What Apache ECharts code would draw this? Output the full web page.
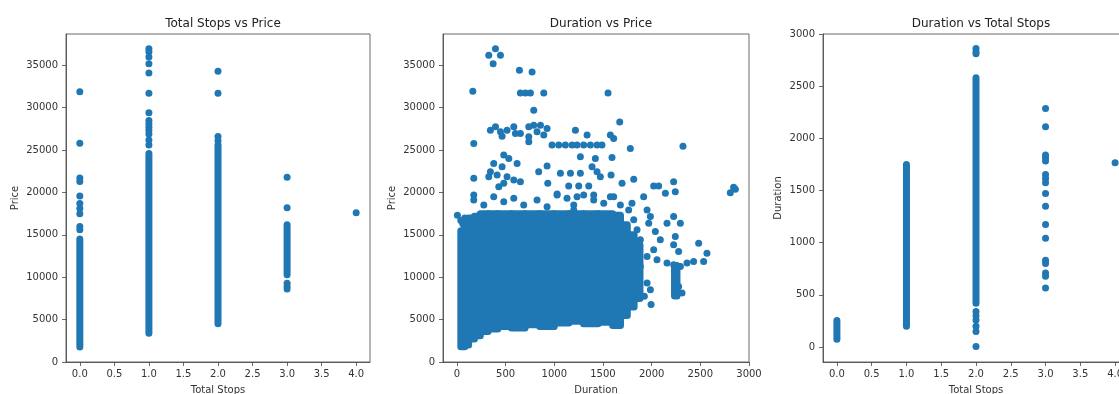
<!DOCTYPE html>
<html>
<head>
<meta charset="utf-8">
<script src="https://cdn.jsdelivr.net/npm/echarts@6/dist/echarts.min.js"></script>
<style>
  html, body { margin: 0; padding: 0; background: #fff; overflow: hidden; }
  #chart { width: 1130px; height: 394px; }
</style>
</head>
<body>
<div id="chart"></div>
<script>
// tick labels
const stopTicks = [0, 0.5, 1, 1.5, 2, 2.5, 3, 3.5, 4]
const priceTicks = [0, 5000, 10000, 15000, 20000, 25000, 30000, 35000]
const durationTicks = [0, 500, 1000, 1500, 2000, 2500, 3000]

// dense runs of overlapping points: [x0, x1, yLow, yHigh]
const stopsPriceDense = [
  [0, 0, 1760, 14500],
  [1, 1, 3400, 24600],
  [2, 2, 4500, 25600],
  [3, 3, 10300, 16200]
]
// single points: [stops, price]
const stopsPricePts = [
  [0, 31900], [0, 25800], [0, 21700], [0, 21300], [0, 19600], [0, 18700], [0, 18100],
  [0, 17500], [0, 16000], [0, 15600],
  [1, 36950], [1, 36600], [1, 36000], [1, 35200], [1, 34100], [1, 31700], [1, 29400],
  [1, 28500], [1, 28100], [1, 27700], [1, 27300], [1, 26900], [1, 26200], [1, 25600],
  [2, 34300], [2, 31700], [2, 26600], [2, 26100],
  [3, 21800], [3, 18200], [3, 9300], [3, 8900], [3, 8600],
  [4, 17600]
]

const durationPriceDense = [
  [40, 80, 1800, 15500],
  [80, 120, 2000, 16000],
  [120, 180, 2700, 17000],
  [180, 240, 3100, 17200],
  [240, 320, 3600, 17500],
  [320, 420, 3900, 17500],
  [420, 560, 4200, 17500],
  [560, 700, 4000, 17500],
  [700, 850, 4400, 17500],
  [850, 1000, 4200, 17500],
  [1000, 1150, 4600, 17500],
  [1150, 1300, 4800, 17500],
  [1300, 1450, 4500, 17500],
  [1450, 1600, 4700, 17500],
  [1600, 1680, 4300, 17300],
  [1680, 1750, 5500, 16200],
  [1750, 1820, 6500, 15000],
  [1820, 1880, 7500, 13800],
  [2235, 2260, 7800, 11400]
]
// single points: [duration, price]
const durationPricePts = [
  [396, 36960], [327, 36180], [447, 36180], [372, 35200], [642, 34410], [772, 34220],
  [163, 31940], [652, 31750], [704, 31750], [755, 31750], [892, 31750], [1552, 31750],
  [789, 29700], [1672, 28330], [2322, 25470], [1781, 25200], [173, 25790],
  [344, 27350], [396, 27750], [447, 27160], [515, 27350], [584, 27750], [652, 26960],
  [601, 26960], [738, 27750], [789, 27940], [858, 27940], [926, 27550], [823, 27160],
  [892, 26770], [738, 26570], [464, 26650], [1217, 27350], [1337, 26770], [1576, 26770],
  [1610, 26370], [738, 25980],
  [977, 25590], [1046, 25590], [1114, 25590], [1183, 25590], [1234, 25590], [1302, 25590],
  [1371, 25590], [1439, 25590], [1490, 25590],
  [1268, 24220], [1422, 24020], [1593, 24140],
  [173, 21670], [481, 24410], [533, 24020], [378, 23430], [464, 23040], [344, 22450],
  [413, 22060], [515, 21860], [618, 23430], [584, 21470], [652, 21280], [481, 21080],
  [430, 20690], [327, 21860], [840, 22450], [926, 23120], [933, 21080],
  [1063, 22260], [1166, 22260], [1268, 22260], [1148, 20770], [1251, 20770], [1354, 20770],
  [1388, 23040], [1439, 22450], [1473, 21860], [1583, 22060], [1696, 21080], [1816, 21550],
  [2021, 20770], [2072, 20770], [2226, 21280], [2243, 20100], [2141, 19900],
  [2842, 20610], [2860, 20370], [2808, 19980],
  [173, 19710], [1029, 19820], [1234, 19510], [1405, 19710], [1610, 19510], [1918, 19510],
  [173, 19120], [276, 18530], [378, 19510], [481, 18920], [584, 19310], [686, 18530],
  [823, 19120], [926, 18330], [1029, 19710], [1131, 19310], [1200, 18530], [1200, 17940],
  [1302, 19710], [1405, 19120], [1508, 18730], [1576, 19510], [1679, 18530],
  [1798, 18730], [1953, 17940], [1987, 17160], [1970, 16370], [2038, 15390], [2089, 14410],
  [2226, 17160], [2295, 16370], [2243, 14800], [2226, 13820], [2277, 13040], [2021, 13240],
  [1953, 12450], [2055, 12060], [2158, 11670], [2226, 11470], [2295, 11270], [2363, 11670],
  [1884, 11270], [2277, 8920], [2312, 8140], [1953, 9310], [1987, 8530], [1925, 7750],
  [1994, 6770], [2483, 14020], [2568, 12840], [2431, 11860], [2534, 11860], [2158, 16370],
  [1764, 17940], [1816, 16770], [1850, 15590], [1884, 14410],
  [5, 17300], [60, 16300], [80, 17000], [40, 16700]
]

const stopsDurationDense = [
  [0, 0, 75, 255],
  [1, 1, 200, 1750],
  [2, 2, 420, 2580]
]
// single points: [stops, duration]
const stopsDurationPts = [
  [2, 2860], [2, 2830], [2, 2810], [2, 340], [2, 300], [2, 260], [2, 200], [2, 150], [2, 5],
  [3, 2285], [3, 2112], [3, 1840], [3, 1814], [3, 1782], [3, 1654], [3, 1616], [3, 1574],
  [3, 1472], [3, 1350], [3, 1174], [3, 1043], [3, 832], [3, 800], [3, 710], [3, 678], [3, 566],
  [4, 1766]
]

const BLUE = '#1f77b4'
const FONT = 'DejaVu Sans'
const R = 3.5

// draw a run of overlapping markers as one rounded block
const renderDense = (params, api) => {
  const a = api.coord([api.value(0), api.value(3)])
  const b = api.coord([api.value(1), api.value(2)])
  return {
    type: 'rect',
    shape: { x: a[0] - R, y: a[1] - R, width: b[0] - a[0] + 2 * R, height: b[1] - a[1] + 2 * R, r: R },
    style: { fill: BLUE }
  }
}

const chart = echarts.init(document.getElementById('chart'))

const grids = [
  { left: 66, top: 34, width: 304, height: 328 },
  { left: 443, top: 34, width: 306, height: 328 },
  { left: 823, top: 34, width: 306, height: 328 }
]

const mkAxis = (gridIndex, min, max, ticks, name, nameGap, fmt, labelMargin) => ({
  type: 'value',
  gridIndex,
  min,
  max,
  name,
  nameLocation: 'middle',
  nameGap,
  nameTextStyle: { fontFamily: FONT, fontSize: 10, color: '#333' },
  splitLine: { show: false },
  axisLine: { show: true, onZero: false, lineStyle: { color: '#444', width: 0.8 } },
  axisTick: { show: true, inside: false, length: 4, customValues: ticks, lineStyle: { color: '#444', width: 0.8 } },
  axisLabel: {
    customValues: ticks,
    margin: labelMargin,
    fontFamily: FONT,
    fontSize: 10,
    color: '#333',
    formatter: fmt,
    hideOverlap: false
  }
})

const fmtStops = (v) => v.toFixed(1)
const fmtInt = (v) => String(Math.round(v))

const titles = ['Total Stops vs Price', 'Duration vs Price', 'Duration vs Total Stops']

const option = {
  animation: false,
  title: titles.map((t, i) => ({
    text: t,
    left: grids[i].left + grids[i].width / 2,
    top: 13,
    textAlign: 'center',
    textStyle: { fontFamily: FONT, fontSize: 12, fontWeight: 'normal', color: '#222' }
  })),
  grid: grids.map((g) => ({
    ...g,
    outerBoundsMode: 'none',
    containLabel: false,
    show: true,
    borderColor: '#444',
    borderWidth: 0.8,
    backgroundColor: '#fff'
  })),
  xAxis: [
    mkAxis(0, -0.2, 4.2, stopTicks, 'Total Stops', 23, fmtStops, 7),
    mkAxis(1, -143, 3000, durationTicks, 'Duration', 23, fmtInt, 7),
    mkAxis(2, -0.2, 4.2, stopTicks, 'Total Stops', 23, fmtStops, 7)
  ],
  yAxis: [
    mkAxis(0, 0, 38700, priceTicks, 'Price', 46, fmtInt, 8),
    mkAxis(1, 0, 38700, priceTicks, 'Price', 46, fmtInt, 8),
    mkAxis(2, -143, 3000, durationTicks, 'Duration', 40, fmtInt, 8)
  ],
  series: [
    { type: 'custom', xAxisIndex: 0, yAxisIndex: 0, renderItem: renderDense, encode: { x: [0, 1], y: [2, 3] }, data: stopsPriceDense, silent: true },
    { type: 'scatter', xAxisIndex: 0, yAxisIndex: 0, symbolSize: 2 * R, itemStyle: { color: BLUE, opacity: 1 }, data: stopsPricePts },
    { type: 'custom', xAxisIndex: 1, yAxisIndex: 1, renderItem: renderDense, encode: { x: [0, 1], y: [2, 3] }, data: durationPriceDense, silent: true },
    { type: 'scatter', xAxisIndex: 1, yAxisIndex: 1, symbolSize: 2 * R, itemStyle: { color: BLUE, opacity: 1 }, data: durationPricePts },
    { type: 'custom', xAxisIndex: 2, yAxisIndex: 2, renderItem: renderDense, encode: { x: [0, 1], y: [2, 3] }, data: stopsDurationDense, silent: true },
    { type: 'scatter', xAxisIndex: 2, yAxisIndex: 2, symbolSize: 2 * R, itemStyle: { color: BLUE, opacity: 1 }, data: stopsDurationPts }
  ]
}

chart.setOption(option)
</script>
</body>
</html>
